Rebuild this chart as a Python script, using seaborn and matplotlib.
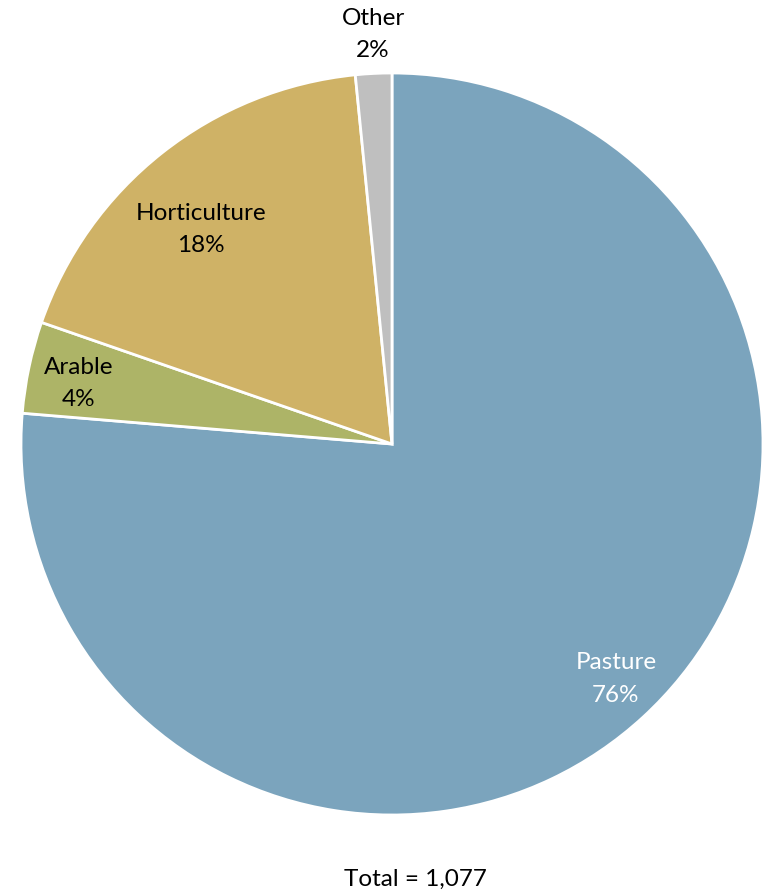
import numpy as np
import matplotlib
matplotlib.use("Agg")
import matplotlib.pyplot as plt
import seaborn as sns

sns.set_theme(style="white")
plt.rcParams["font.family"] = ["Lato", "DejaVu Sans"]

# Land use areas (total 1,077)
categories = ["Pasture", "Arable", "Horticulture", "Other"]
values = [822, 43, 195, 17]
colors = ["#7BA4BD", "#ADB467", "#CFB266", "#BFBFBF"]
text_colors = ["white", "black", "black", "black"]
# label placement: radius (fraction of pie radius) and angular nudge in degrees
label_radius = [0.875, 0.86, 0.775, 1.105]
label_nudge = [1.0, 1.0, 3.4, -0.2]

W, H = 762, 890
fig = plt.figure(figsize=(W / 100, H / 100), dpi=100)
ax = fig.add_axes([21 / W, (H - 815) / H, 742 / W, 742 / H])

wedges, _ = ax.pie(
    values,
    colors=colors,
    startangle=90,
    counterclock=False,
    radius=1.0,
    wedgeprops=dict(edgecolor="white", linewidth=2),
)
ax.set_xlim(-1, 1)
ax.set_ylim(-1, 1)
ax.set_aspect("equal")
ax.axis("off")

total = sum(values)
for w, name, val, tc, r, d in zip(wedges, categories, values, text_colors,
                                  label_radius, label_nudge):
    mid = np.deg2rad((w.theta1 + w.theta2) / 2 + d)
    x, y = r * np.cos(mid), r * np.sin(mid)
    ax.text(x, y, f"{name}\n{val / total:.0%}", ha="center", va="center",
            color=tc, fontsize=17.5, linespacing=1.65, clip_on=False)

fig.text(0.545, 1 - 879 / H, f"Total = {total:,}", ha="center", va="center",
         fontsize=17.5, color="black")

fig.savefig("out.png", dpi=100)
